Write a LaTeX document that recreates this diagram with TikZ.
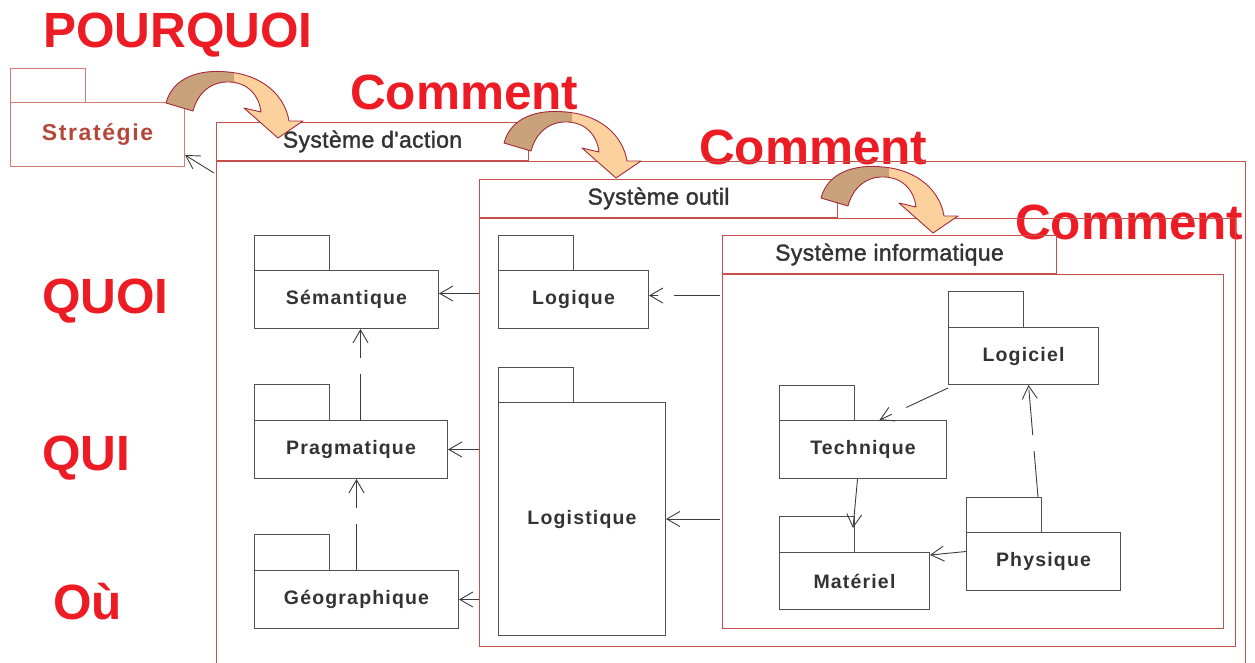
\documentclass[tikz,border=0pt]{standalone}
\usepackage{fontspec}
\setmainfont{Liberation Sans}
\newfontfamily\pkgfont{Liberation Sans}[LetterSpace=6]
\newfontfamily\sysfont{Liberation Sans}[LetterSpace=1.5,FakeBold=1.5]
\newfontfamily\stratfont{Liberation Sans}[LetterSpace=7]
\usetikzlibrary{arrows.meta,calc}
\definecolor{lbl}{HTML}{ED1C24}
\definecolor{sysline}{HTML}{C8504A}
\definecolor{stratline}{HTML}{D67A72}
\definecolor{pkgline}{HTML}{505050}
\definecolor{pkgtext}{HTML}{333333}
\definecolor{strattext}{HTML}{B5473A}
\definecolor{tanc}{HTML}{C9A27C}
\definecolor{peach}{HTML}{FDD19E}
\definecolor{arrline}{HTML}{A32A38}
\definecolor{conn}{HTML}{3C3C3C}
\newcommand\bentArrow[1]{%
\begin{scope}[shift={#1}]
\fill[peach] (166,103) .. controls (173,77) and (200,69) .. (228,72) .. controls (263,75) and (285,96) .. (289,121) -- (303,121) -- (278,138) -- (244,108) -- (261,112) .. controls (259,95) and (248,83) .. (230,82) .. controls (212,81) and (198,92) .. (193,111) -- cycle;
\begin{scope}
\clip (150,60) rectangle (234,140);
\fill[tanc] (166,103) .. controls (173,77) and (200,69) .. (228,72) .. controls (263,75) and (285,96) .. (289,121) -- (303,121) -- (278,138) -- (244,108) -- (261,112) .. controls (259,95) and (248,83) .. (230,82) .. controls (212,81) and (198,92) .. (193,111) -- cycle;
\end{scope}
\draw[arrline, line width=0.9pt, line join=round] (166,103) .. controls (173,77) and (200,69) .. (228,72) .. controls (263,75) and (285,96) .. (289,121) -- (303,121) -- (278,138) -- (244,108) -- (261,112) .. controls (259,95) and (248,83) .. (230,82) .. controls (212,81) and (198,92) .. (193,111) -- cycle;
\end{scope}}
\begin{document}
\begin{tikzpicture}[x=1pt,y=-1pt,
  biglabel/.style={text=lbl, font=\fontsize{49.5}{50}\selectfont\bfseries, anchor=base west, inner sep=0pt},
  pkg/.style={draw=pkgline, line width=1pt, inner sep=0pt, anchor=north west, text=pkgtext,
    font=\pkgfont\fontsize{19.5}{21}\selectfont\bfseries},
  sysbox/.style={draw=sysline, line width=1pt, inner sep=0pt, anchor=north west},
  systab/.style={draw=sysline, line width=1pt, inner sep=0pt, anchor=south west, text=pkgtext,
    font=\sysfont\fontsize{23}{24}\selectfont},
  pkgtab/.style={draw=pkgline, line width=1pt},
  dep/.style={draw=conn, line width=0.9pt, -{Straight Barb[length=13pt,width=15pt]}},
  dashdep/.style={dep, dash pattern=on 46pt off 16pt}]
\useasboundingbox (0,0) rectangle (1255,662);
\clip (0,0) rectangle (1255,662);

% big red labels
\node[biglabel] (pourquoi) at (43,47) {POURQUOI};
\node[biglabel] (comment1) at (350,109) {Comment};
\node[biglabel] (comment2) at (699,164) {Comment};
\node[biglabel] (comment3) at (1015,239) {Comment};
\node[biglabel] (quoi) at (42,313) {QUOI};
\node[biglabel] (qui) at (42,470) {QUI};
\node[biglabel] (ou) at (53,619) {Où};

% Stratégie
\node[draw=stratline, line width=1pt, inner sep=0pt, anchor=north west, minimum width=174pt, minimum height=64pt,
  text=strattext, font=\stratfont\fontsize{23}{24}\selectfont\bfseries] (strat) at (10,102) {Stratégie};
\draw[draw=stratline, line width=1pt] (strat.north west) rectangle ++(75,-34);

% systems
\node[sysbox, minimum width=1029pt, minimum height=520pt] (action) at (216,161) {};
\node[systab, minimum width=312pt, minimum height=38pt] (actiontab) at (action.north west) {Système d'action};
\node[sysbox, minimum width=756pt, minimum height=428pt] (outil) at (479,218) {};
\node[systab, minimum width=358pt, minimum height=38pt] (outiltab) at (outil.north west) {Système outil};
\node[sysbox, minimum width=501pt, minimum height=354pt] (info) at (722,274) {};
\node[systab, minimum width=334pt, minimum height=38pt] (infotab) at (info.north west) {Système informatique};

% packages
\node[pkg, minimum width=184pt, minimum height=58pt] (sem) at (254,270) {Sémantique};
\node[pkg, minimum width=193pt, minimum height=58pt] (prag) at (254,420) {Pragmatique};
\node[pkg, minimum width=204pt, minimum height=58pt] (geo) at (254,570) {Géographique};
\node[pkg, minimum width=150pt, minimum height=58pt] (logique) at (498,270) {Logique};
\node[pkg, minimum width=167pt, minimum height=233pt] (logistique) at (498,402) {Logistique};
\node[pkg, minimum width=150pt, minimum height=57pt] (logiciel) at (948,327) {Logiciel};
\node[pkg, minimum width=167pt, minimum height=58pt] (technique) at (779,420) {Technique};
\node[pkg, minimum width=150pt, minimum height=57pt] (materiel) at (779,552) {Matériel};
\node[pkg, minimum width=154pt, minimum height=58pt] (physique) at (966,532) {Physique};
\foreach \n/\h in {sem/35,prag/36,geo/36,logique/35,logistique/35,logiciel/36,technique/35,materiel/36,physique/35}
  \draw[pkgtab] (\n.north west) rectangle ++(75,-\h);

% connectors
\draw[dep] ($(action.north west)+(-2,12)$) -- ($(strat.south east)+(0,-12)$);
\coordinate (tsem) at ($(sem.east)+(0,-6)$);
\draw[dep] (outil.west |- tsem) -- (tsem);
\draw[dep] (outil.west |- prag.east) -- (prag.east);
\draw[dep] (outil.west |- geo.east) -- (geo.east);
\draw[dashdep] ($(prag.north)+(9.5,0)$) coordinate (s1) -- (s1 |- sem.south);
\draw[dashdep] (geo.north) -- (geo.north |- prag.south);
\coordinate (tlog) at ($(logique.east)+(0,-4)$);
\draw[dashdep] ($(info.west |- tlog)+(-2,0)$) -- (tlog);
\draw[dep] ($(info.west |- logistique.east)+(-2,0)$) -- (logistique.east);
\draw[dashdep] ($(logiciel.south west)+(0,3)$) -- ($(technique.north)+(16.5,0)$);
\draw[dep] ($(technique.south)+(-5.5,0)$) -- ($(materiel.north west)+(74,-24)$);
\draw[dep] ($(physique.west)+(0,-10)$) -- ($(materiel.north east)+(0,3)$);
\draw[dashdep] ($(physique.north west)+(72,-35)$) -- ($(logiciel.south)+(5,0)$);

% bent arrows
\bentArrow{(0,0)}
\bentArrow{(338,40)}
\bentArrow{(655,95)}
\end{tikzpicture}
\end{document}
